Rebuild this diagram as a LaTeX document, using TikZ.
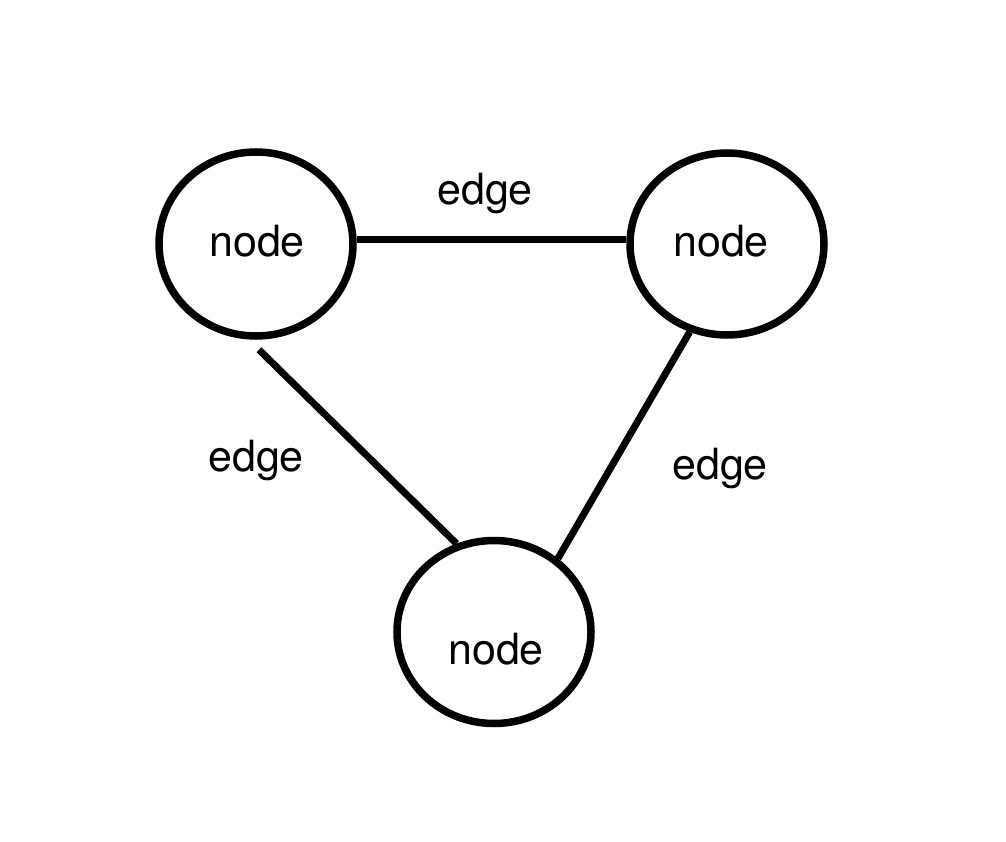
\documentclass[tikz,border=0pt]{standalone}
\usepackage{fontspec}
\setmainfont{TeX Gyre Heros}
\usetikzlibrary{shapes.geometric}
\begin{document}
\begin{tikzpicture}[x=1pt,y=-1pt,
  vertex/.style={draw=black,line width=7.5pt,ellipse,inner sep=0pt},
  lbl/.style={anchor=base,inner sep=0pt,font=\fontsize{43}{48}\selectfont},
  link/.style={draw=black,line width=7pt}]
\useasboundingbox (0,0) rectangle (1006,842);
\node[vertex,minimum width=194pt,minimum height=184pt] (a) at (256,244) {};
\node[vertex,minimum width=194pt,minimum height=182pt] (b) at (727,244) {};
\node[vertex,minimum width=194pt,minimum height=183pt] (c) at (494,632) {};
\node[lbl] (ta) at (257,257) {node};
\node[lbl] (tb) at (721,257) {node};
\node[lbl] (tc) at (496,664) {node};
\node[lbl] (e1) at (485,205) {edge};
\node[lbl] (e2) at (256,471) {edge};
\node[lbl] (e3) at (720,479) {edge};
\draw[link] ([yshift=4pt]a.east) -- ([yshift=4pt]b.west);
\draw[link] ([shift={(3,10)}]a.south) -- (c.113);
\draw[link] (b.247) -- (c.49);
\end{tikzpicture}
\end{document}
